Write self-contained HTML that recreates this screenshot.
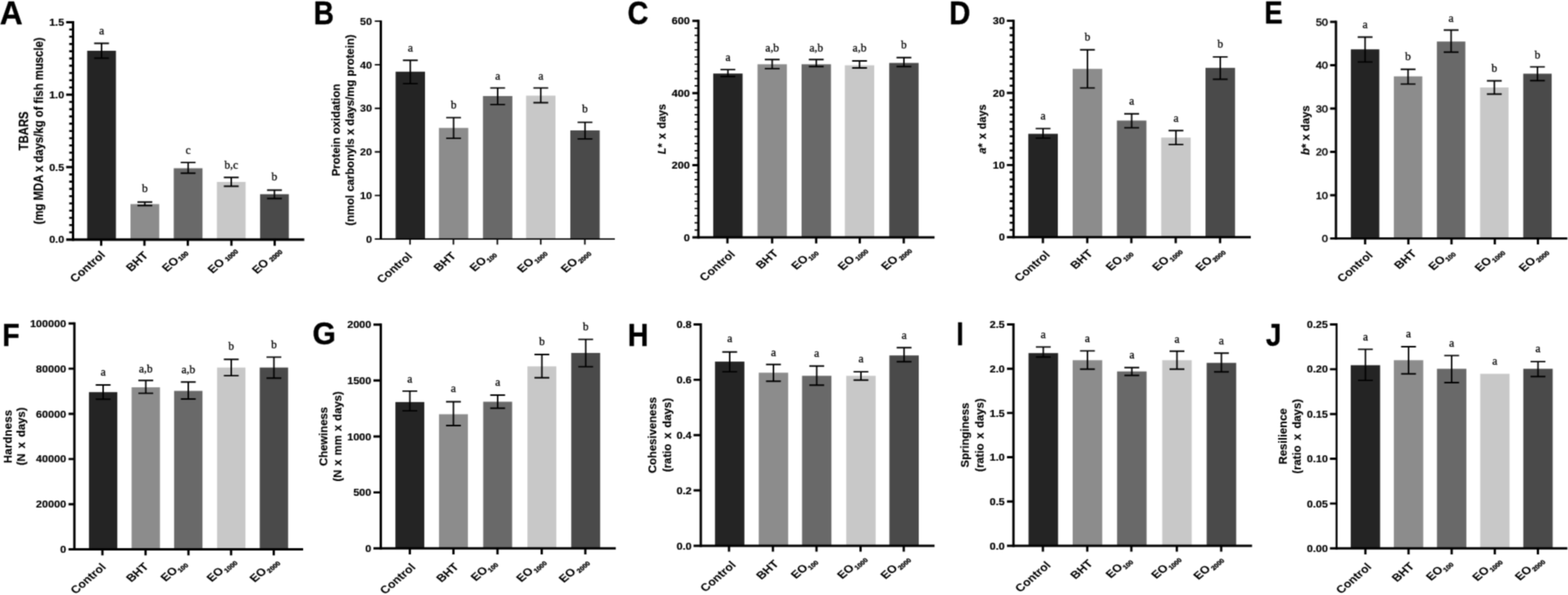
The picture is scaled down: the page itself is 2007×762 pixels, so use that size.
<!DOCTYPE html>
<html lang="en">
<head>
<meta charset="utf-8">
<title>Figure: oxidation, colour and texture parameters</title>
<style>
html,body{margin:0;padding:0;background:#fff}
body{width:2007px;height:762px;overflow:hidden;font-family:"Liberation Sans",sans-serif}
svg{display:block}
.ax{fill:none;stroke:#000}
.tk{fill:none;stroke:#000}
.er{fill:none;stroke:#000;stroke-width:1.9}
text{fill:#000;stroke:#000;stroke-width:0.15px;stroke-linejoin:round}
.st{stroke-width:0.25px}
.sb{stroke-width:0.4px}
.pl{stroke-width:0.4px}
.tl{font-family:"Liberation Sans",sans-serif;font-weight:normal;text-anchor:end}
.tb{font-weight:bold}
.xl{font-family:"Liberation Sans",sans-serif;font-weight:bold;font-size:14.0px;text-anchor:end;stroke-width:0.05px}
.sb{font-size:7.9px}
.yt{font-family:"Liberation Sans",sans-serif;font-weight:bold;font-size:14.5px;text-anchor:middle}
.st{font-family:"Liberation Serif",serif;font-size:14.0px;text-anchor:middle}
.pl{font-family:"Liberation Sans",sans-serif;font-weight:bold;font-size:40px}
</style>
</head>
<body>
<svg width="2007" height="762" viewBox="0 0 2007 762">
<defs><filter id="soft" color-interpolation-filters="sRGB" x="0" y="0" width="2007" height="762" filterUnits="userSpaceOnUse"><feConvolveMatrix order="3" kernelMatrix="0.0400 0.1200 0.0400 0.1200 0.3600 0.1200 0.0400 0.1200 0.0400" edgeMode="duplicate" preserveAlpha="true"/></filter></defs>
<rect width="2007" height="762" fill="#fff"/>
<g filter="url(#soft)">
<rect width="2007" height="762" fill="#fff"/>
<g id="panel-A">
<rect x="111.6" y="65" width="36.8" height="241.85" fill="#242424"/>
<rect x="167" y="261.4" width="36.8" height="45.45" fill="#8c8c8c"/>
<rect x="222.4" y="215.5" width="36.8" height="91.35" fill="#696969"/>
<rect x="277.6" y="233" width="36.8" height="73.85" fill="#c8c8c8"/>
<rect x="332.9" y="248.7" width="36.8" height="58.15" fill="#4a4a4a"/>
<path class="er" d="M130 55.5V74.5M120.5 55.5h19M120.5 74.5h19M185.4 258.8V263.2M175.9 258.8h19M175.9 263.2h19M240.8 208.1V221.8M231.3 208.1h19M231.3 221.8h19M296 227.2V238.5M286.5 227.2h19M286.5 238.5h19M351.3 243.5V254.2M341.8 243.5h19M341.8 254.2h19"/>
<path class="ax" stroke-width="3.0" d="M93.5 27.05V308.5"/>
<path class="ax" stroke-width="3.3" d="M84.7 306.85H389.5"/>
<path class="tk" stroke-width="2.9" d="M84.7 28.5H93.5M84.7 121.28H93.5M84.7 214.07H93.5M129.5 306.85V314.7M184.9 306.85V314.7M240.4 306.85V314.7M296.2 306.85V314.7M351.6 306.85V314.7"/>
<path class="tk" stroke-width="2.6" d="M88.6 37.78H93.5M88.6 47.06H93.5M88.6 56.34H93.5M88.6 65.61H93.5M88.6 74.89H93.5M88.6 84.17H93.5M88.6 93.45H93.5M88.6 102.73H93.5M88.6 112.01H93.5M88.6 130.56H93.5M88.6 139.84H93.5M88.6 149.12H93.5M88.6 158.4H93.5M88.6 167.68H93.5M88.6 176.95H93.5M88.6 186.23H93.5M88.6 195.51H93.5M88.6 204.79H93.5M88.6 223.34H93.5M88.6 232.62H93.5M88.6 241.9H93.5M88.6 251.18H93.5M88.6 260.46H93.5M88.6 269.74H93.5M88.6 279.01H93.5M88.6 288.29H93.5M88.6 297.57H93.5"/>
<text class="tl tb" style="stroke-width:0.15px" transform="translate(82.2 33.14) scale(1.12 1)" font-size="12.4">1.5</text>
<text class="tl tb" style="stroke-width:0.15px" transform="translate(82.2 125.92) scale(1.12 1)" font-size="12.4">1.0</text>
<text class="tl tb" style="stroke-width:0.15px" transform="translate(82.2 218.71) scale(1.12 1)" font-size="12.4">0.5</text>
<text class="tl tb" style="stroke-width:0.15px" transform="translate(82.2 311.49) scale(1.12 1)" font-size="12.4">0.0</text>
<text class="st" transform="translate(130 44) scale(1.06 1)">a</text>
<text class="st" transform="translate(185.4 245.7) scale(1.06 1)">b</text>
<text class="st" transform="translate(240.8 197) scale(1.06 1)">c</text>
<text class="st" transform="translate(296 216.2) scale(1.06 1)">b,c</text>
<text class="st" transform="translate(351.3 230.8) scale(1.06 1)">b</text>
<text class="xl" transform="translate(135.7 327.35) scale(1.13 1) rotate(-45)">Control</text>
<text class="xl" transform="translate(190.7 328.05) scale(1.13 1) rotate(-45)">BHT</text>
<text class="xl" transform="translate(241.3 324.55) scale(1.13 1) rotate(-45)">EO<tspan class="sb" dx="1.2" dy="0.8">100</tspan></text>
<text class="xl" transform="translate(304.9 322.15) scale(1.13 1) rotate(-45)">EO<tspan class="sb" dx="3.2" dy="0.8">1000</tspan></text>
<text class="xl" transform="translate(361.6 322.65) scale(1.13 1) rotate(-45)">EO<tspan class="sb" dx="3.2" dy="0.8">2000</tspan></text>
<text class="yt" transform="translate(36.3 167.68) scale(1.13 1) rotate(-90)">TBARS</text>
<text class="yt" transform="translate(55 167.68) scale(1.13 1) rotate(-90)">(mg MDA x days/kg of fish muscle)</text>
<text class="pl" transform="translate(-0.26 31.05) scale(1.0136 1.0538)">A</text>
</g>
<g id="panel-B">
<rect x="506.4" y="91.8" width="37.6" height="214.35" fill="#242424"/>
<rect x="561.8" y="163.8" width="37.6" height="142.35" fill="#8c8c8c"/>
<rect x="618.2" y="123" width="37.6" height="183.15" fill="#696969"/>
<rect x="673.4" y="122.5" width="37.6" height="183.65" fill="#c8c8c8"/>
<rect x="730" y="167" width="37.6" height="139.15" fill="#4a4a4a"/>
<path class="er" d="M525.2 77.3V107.1M515.7 77.3h19M515.7 107.1h19M580.6 150.6V177.1M571.1 150.6h19M571.1 177.1h19M637 112.6V133.9M627.5 112.6h19M627.5 133.9h19M692.2 112.6V131.5M682.7 112.6h19M682.7 131.5h19M748.8 156.6V177.9M739.3 156.6h19M739.3 177.9h19"/>
<path class="ax" stroke-width="3.0" d="M487.45 26.15V307.1"/>
<path class="ax" stroke-width="1.9" d="M479.7 306.15H787"/>
<path class="tk" stroke-width="1.9" d="M479.7 27.1H487.45M479.7 82.91H487.45M479.7 138.72H487.45M479.7 194.53H487.45M479.7 250.34H487.45M524.8 306.15V313.3M580.4 306.15V313.3M636.6 306.15V313.3M692.2 306.15V313.3M748.6 306.15V313.3"/>
<text class="tl tb" style="stroke-width:0.1px" transform="translate(476.3 31.74) scale(1.12 1)" font-size="12.4">50</text>
<text class="tl tb" style="stroke-width:0.1px" transform="translate(476.3 87.55) scale(1.12 1)" font-size="12.4">40</text>
<text class="tl tb" style="stroke-width:0.1px" transform="translate(476.3 143.36) scale(1.12 1)" font-size="12.4">30</text>
<text class="tl tb" style="stroke-width:0.1px" transform="translate(476.3 199.17) scale(1.12 1)" font-size="12.4">20</text>
<text class="tl tb" style="stroke-width:0.1px" transform="translate(476.3 254.98) scale(1.12 1)" font-size="12.4">10</text>
<text class="tl tb" style="stroke-width:0.1px" transform="translate(476.3 310.79) scale(1.12 1)" font-size="12.4">0</text>
<text class="st" transform="translate(525.2 66.2) scale(1.06 1)">a</text>
<text class="st" transform="translate(580.6 138.7) scale(1.06 1)">b</text>
<text class="st" transform="translate(637 102) scale(1.06 1)">a</text>
<text class="st" transform="translate(692.2 102) scale(1.06 1)">a</text>
<text class="st" transform="translate(748.8 144.3) scale(1.06 1)">b</text>
<text class="xl" transform="translate(528.7 329.05) scale(1.1368 0.98) rotate(-45)">Control</text>
<text class="xl" transform="translate(584.7 328.55) scale(1.1368 0.98) rotate(-45)">BHT</text>
<text class="xl" transform="translate(634.5 325.15) scale(1.1368 0.98) rotate(-45)">EO<tspan class="sb" dx="0.3" dy="3.2">100</tspan></text>
<text class="xl" transform="translate(699.2 323.35) scale(1.1368 0.98) rotate(-45)">EO<tspan class="sb" dx="0.8" dy="3.2">1000</tspan></text>
<text class="xl" transform="translate(755.2 323.35) scale(1.1368 0.98) rotate(-45)">EO<tspan class="sb" dx="0.8" dy="3.2">2000</tspan></text>
<text class="yt" transform="translate(435 166.62) scale(1 1) rotate(-90)">Protein oxidation</text>
<text class="yt" transform="translate(453 166.62) scale(1 1) rotate(-90)">(nmol carbonyls x days/mg protein)</text>
<text class="pl" transform="translate(401.45 31.05) scale(0.8977 1.0538)">B</text>
</g>
<g id="panel-C">
<rect x="912.9" y="94.2" width="37.6" height="209.75" fill="#242424"/>
<rect x="969.6" y="82.3" width="37.6" height="221.65" fill="#8c8c8c"/>
<rect x="1026" y="82.3" width="37.6" height="221.65" fill="#696969"/>
<rect x="1081.4" y="83.6" width="37.6" height="220.35" fill="#c8c8c8"/>
<rect x="1138.2" y="80.6" width="37.6" height="223.35" fill="#4a4a4a"/>
<path class="er" d="M931.7 89.1V98M922.2 89.1h19M922.2 98h19M988.4 76.3V87.9M978.9 76.3h19M978.9 87.9h19M1044.8 76.3V85.3M1035.3 76.3h19M1035.3 85.3h19M1100.2 78V87M1090.7 78h19M1090.7 87h19M1157 73.7V85.3M1147.5 73.7h19M1147.5 85.3h19"/>
<path class="ax" stroke-width="3.0" d="M893.95 25.35V305.45"/>
<path class="ax" stroke-width="3.0" d="M886.2 303.95H1196.2"/>
<path class="tk" stroke-width="2.9" d="M886.2 26.8H893.95M886.2 119.18H893.95M886.2 211.57H893.95M931.1 303.95V311.65M988.3 303.95V311.65M1044.7 303.95V311.65M1100.5 303.95V311.65M1156.8 303.95V311.65"/>
<path class="tk" stroke-width="1.7" d="M889.05 36.04H893.95M889.05 45.28H893.95M889.05 54.52H893.95M889.05 63.75H893.95M889.05 72.99H893.95M889.05 82.23H893.95M889.05 91.47H893.95M889.05 100.71H893.95M889.05 109.94H893.95M889.05 128.42H893.95M889.05 137.66H893.95M889.05 146.9H893.95M889.05 156.14H893.95M889.05 165.38H893.95M889.05 174.61H893.95M889.05 183.85H893.95M889.05 193.09H893.95M889.05 202.33H893.95M889.05 220.81H893.95M889.05 230.04H893.95M889.05 239.28H893.95M889.05 248.52H893.95M889.05 257.76H893.95M889.05 267H893.95M889.05 276.23H893.95M889.05 285.47H893.95M889.05 294.71H893.95"/>
<text class="tl tb" style="stroke-width:0.2px" transform="translate(883 31.44) scale(1.12 1)" font-size="12.4">600</text>
<text class="tl tb" style="stroke-width:0.2px" transform="translate(883 123.82) scale(1.12 1)" font-size="12.4">400</text>
<text class="tl tb" style="stroke-width:0.2px" transform="translate(883 216.21) scale(1.12 1)" font-size="12.4">200</text>
<text class="tl tb" style="stroke-width:0.2px" transform="translate(883 308.59) scale(1.12 1)" font-size="12.4">0</text>
<text class="st" transform="translate(931.7 78.3) scale(1.06 1)">a</text>
<text class="st" transform="translate(988.4 65.7) scale(1.06 1)">a,b</text>
<text class="st" transform="translate(1044.8 65.7) scale(1.06 1)">a,b</text>
<text class="st" transform="translate(1100.2 66.1) scale(1.06 1)">a,b</text>
<text class="st" transform="translate(1157 61.8) scale(1.06 1)">b</text>
<text class="xl" transform="translate(941.8 326.45) scale(1.1368 0.98) rotate(-45)">Control</text>
<text class="xl" transform="translate(997.1 325.35) scale(1.1368 0.98) rotate(-45)">BHT</text>
<text class="xl" transform="translate(1046.3 322.85) scale(1.1368 0.98) rotate(-45)">EO<tspan class="sb" dx="0.3" dy="3.2">100</tspan></text>
<text class="xl" transform="translate(1109.7 320.15) scale(1.1368 0.98) rotate(-45)">EO<tspan class="sb" dx="0.8" dy="3.2">1000</tspan></text>
<text class="xl" transform="translate(1165.8 319.65) scale(1.1368 0.98) rotate(-45)">EO<tspan class="sb" dx="1.5" dy="3.2">2000</tspan></text>
<text class="yt" word-spacing="1.75" transform="translate(852 165.38) scale(0.96 0.96) rotate(-90)"><tspan font-style="italic">L</tspan>* x days</text>
<text class="pl" transform="translate(803.33 31.03) scale(0.9254 1.0593)">C</text>
</g>
<g id="panel-D">
<rect x="1316.2" y="171.4" width="37.8" height="132.4" fill="#242424"/>
<rect x="1373" y="88.2" width="37.8" height="215.6" fill="#8c8c8c"/>
<rect x="1429.6" y="154.4" width="37.8" height="149.4" fill="#696969"/>
<rect x="1486.3" y="176.2" width="37.8" height="127.6" fill="#c8c8c8"/>
<rect x="1543" y="86.9" width="37.8" height="216.9" fill="#4a4a4a"/>
<path class="er" d="M1335.1 164.6V176.9M1325.6 164.6h19M1325.6 176.9h19M1391.9 63.8V112.6M1382.4 63.8h19M1382.4 112.6h19M1448.5 145.7V163.6M1439 145.7h19M1439 163.6h19M1505.2 167.2V185.1M1495.7 167.2h19M1495.7 185.1h19M1561.9 72.9V101.5M1552.4 72.9h19M1552.4 101.5h19"/>
<path class="ax" stroke-width="3.0" d="M1297.3 25.15V305.3"/>
<path class="ax" stroke-width="3.0" d="M1288.7 303.8H1601"/>
<path class="tk" stroke-width="2.9" d="M1288.7 26.6H1297.3M1288.7 119H1297.3M1288.7 211.4H1297.3M1334.9 303.8V311.5M1391.7 303.8V311.5M1448.1 303.8V311.5M1504.9 303.8V311.5M1561.7 303.8V311.5"/>
<path class="tk" stroke-width="2.6" d="M1292.4 35.84H1297.3M1292.4 45.08H1297.3M1292.4 54.32H1297.3M1292.4 63.56H1297.3M1292.4 72.8H1297.3M1292.4 82.04H1297.3M1292.4 91.28H1297.3M1292.4 100.52H1297.3M1292.4 109.76H1297.3M1292.4 128.24H1297.3M1292.4 137.48H1297.3M1292.4 146.72H1297.3M1292.4 155.96H1297.3M1292.4 165.2H1297.3M1292.4 174.44H1297.3M1292.4 183.68H1297.3M1292.4 192.92H1297.3M1292.4 202.16H1297.3M1292.4 220.64H1297.3M1292.4 229.88H1297.3M1292.4 239.12H1297.3M1292.4 248.36H1297.3M1292.4 257.6H1297.3M1292.4 266.84H1297.3M1292.4 276.08H1297.3M1292.4 285.32H1297.3M1292.4 294.56H1297.3"/>
<text class="tl tb" style="stroke-width:0.2px" transform="translate(1286.2 31.24) scale(1.12 1)" font-size="12.4">30</text>
<text class="tl tb" style="stroke-width:0.2px" transform="translate(1286.2 123.64) scale(1.12 1)" font-size="12.4">20</text>
<text class="tl tb" style="stroke-width:0.2px" transform="translate(1286.2 216.04) scale(1.12 1)" font-size="12.4">10</text>
<text class="tl tb" style="stroke-width:0.2px" transform="translate(1286.2 308.44) scale(1.12 1)" font-size="12.4">0</text>
<text class="st" transform="translate(1335.1 152.7) scale(1.06 1)">a</text>
<text class="st" transform="translate(1391.9 51.9) scale(1.06 1)">b</text>
<text class="st" transform="translate(1448.5 134.3) scale(1.06 1)">a</text>
<text class="st" transform="translate(1505.2 156.4) scale(1.06 1)">a</text>
<text class="st" transform="translate(1561.9 61.3) scale(1.06 1)">b</text>
<text class="xl" transform="translate(1344.8 327.1) scale(1.1368 0.98) rotate(-45)">Control</text>
<text class="xl" transform="translate(1399.5 325.5) scale(1.1368 0.98) rotate(-45)">BHT</text>
<text class="xl" transform="translate(1449.2 323.9) scale(1.1368 0.98) rotate(-45)">EO<tspan class="sb" dx="0.8" dy="3.2">100</tspan></text>
<text class="xl" transform="translate(1512.3 321) scale(1.1368 0.98) rotate(-45)">EO<tspan class="sb" dx="0.8" dy="3.2">1000</tspan></text>
<text class="xl" transform="translate(1567.1 321.7) scale(1.1368 0.98) rotate(-45)">EO<tspan class="sb" dx="0.3" dy="3.2">2000</tspan></text>
<text class="yt" word-spacing="1.4" transform="translate(1262 165.2) scale(0.96 0.96) rotate(-90)"><tspan font-style="italic">a</tspan>* x days</text>
<text class="pl" transform="translate(1214.94 31.45) scale(0.9376 1.0538)">D</text>
</g>
<g id="panel-E">
<rect x="1729.1" y="63.2" width="36.4" height="242.25" fill="#242424"/>
<rect x="1784.1" y="97.8" width="36.4" height="207.65" fill="#8c8c8c"/>
<rect x="1839.2" y="53.2" width="36.4" height="252.25" fill="#696969"/>
<rect x="1894.5" y="112" width="36.4" height="193.45" fill="#c8c8c8"/>
<rect x="1949.7" y="94.4" width="36.4" height="211.05" fill="#4a4a4a"/>
<path class="er" d="M1747.3 47.5V79.4M1737.8 47.5h19M1737.8 79.4h19M1802.3 88.8V107.6M1792.8 88.8h19M1792.8 107.6h19M1857.4 38.5V66.8M1847.9 38.5h19M1847.9 66.8h19M1912.7 103.5V120.5M1903.2 103.5h19M1903.2 120.5h19M1967.9 85.6V103.3M1958.4 85.6h19M1958.4 103.3h19"/>
<path class="ax" stroke-width="3.0" d="M1710 26.55V306.8"/>
<path class="ax" stroke-width="2.7" d="M1702.5 305.45H2006.2"/>
<path class="tk" stroke-width="2.9" d="M1702.5 28H1710M1702.5 83.49H1710M1702.5 138.98H1710M1702.5 194.47H1710M1702.5 249.96H1710M1747.3 305.45V313M1802.7 305.45V313M1857.9 305.45V313M1913.3 305.45V313M1968.5 305.45V313"/>
<text class="tl" style="stroke-width:0.5px" transform="translate(1699.8 32.64) scale(1.12 1)" font-size="12.4">50</text>
<text class="tl" style="stroke-width:0.5px" transform="translate(1699.8 88.13) scale(1.12 1)" font-size="12.4">40</text>
<text class="tl" style="stroke-width:0.5px" transform="translate(1699.8 143.62) scale(1.12 1)" font-size="12.4">30</text>
<text class="tl" style="stroke-width:0.5px" transform="translate(1699.8 199.11) scale(1.12 1)" font-size="12.4">20</text>
<text class="tl" style="stroke-width:0.5px" transform="translate(1699.8 254.6) scale(1.12 1)" font-size="12.4">10</text>
<text class="tl" style="stroke-width:0.5px" transform="translate(1699.8 310.09) scale(1.12 1)" font-size="12.4">0</text>
<text class="st" transform="translate(1747.3 35.9) scale(1.06 1)">a</text>
<text class="st" transform="translate(1802.3 76.9) scale(1.06 1)">b</text>
<text class="st" transform="translate(1857.4 27.9) scale(1.06 1)">a</text>
<text class="st" transform="translate(1912.7 91.9) scale(1.06 1)">b</text>
<text class="st" transform="translate(1967.9 75.3) scale(1.06 1)">b</text>
<text class="xl" transform="translate(1758 327.75) scale(1.1368 0.98) rotate(-45)">Control</text>
<text class="xl" transform="translate(1814 325.65) scale(1.1368 0.98) rotate(-45)">BHT</text>
<text class="xl" transform="translate(1861.6 323.95) scale(1.1368 0.98) rotate(-45)">EO<tspan class="sb" dx="0.0" dy="3.2">100</tspan></text>
<text class="xl" transform="translate(1924.9 322.15) scale(1.1368 0.98) rotate(-45)">EO<tspan class="sb" dx="0.6" dy="3.2">1000</tspan></text>
<text class="xl" transform="translate(1981.4 322.15) scale(1.1368 0.98) rotate(-45)">EO<tspan class="sb" dx="0.6" dy="3.2">2000</tspan></text>
<text class="yt" transform="translate(1676 166.72) scale(1 1) rotate(-90)"><tspan font-style="italic">b</tspan>* x days</text>
<text class="pl" transform="translate(1618.51 30.45) scale(0.8734 1.0174)">E</text>
</g>
<g id="panel-F">
<rect x="113.85" y="502.2" width="36.3" height="201.35" fill="#242424"/>
<rect x="168.45" y="496" width="36.3" height="207.55" fill="#8c8c8c"/>
<rect x="222.85" y="500.6" width="36.3" height="202.95" fill="#696969"/>
<rect x="277.85" y="470.7" width="36.3" height="232.85" fill="#c8c8c8"/>
<rect x="332.45" y="470.7" width="36.3" height="232.85" fill="#4a4a4a"/>
<path class="er" d="M132 493V511.2M122.5 493h19M122.5 511.2h19M186.6 487.3V503.6M177.1 487.3h19M177.1 503.6h19M241 489.3V511M231.5 489.3h19M231.5 511h19M296 460.2V481.1M286.5 460.2h19M286.5 481.1h19M350.6 457.4V484.3M341.1 457.4h19M341.1 484.3h19"/>
<path class="ax" stroke-width="3.0" d="M95.2 412.85V705.05"/>
<path class="ax" stroke-width="3.0" d="M87.7 703.55H388"/>
<path class="tk" stroke-width="2.9" d="M87.7 414.3H95.2M87.7 472.15H95.2M87.7 530H95.2M87.7 587.85H95.2M87.7 645.7H95.2M131.1 703.55V711.25M186.3 703.55V711.25M241.2 703.55V711.25M295.8 703.55V711.25M350.4 703.55V711.25"/>
<text class="tl tb" style="stroke-width:0.15px" transform="translate(84.7 418.94) scale(1.12 1)" font-size="12.4">100000</text>
<text class="tl tb" style="stroke-width:0.15px" transform="translate(84.7 476.79) scale(1.12 1)" font-size="12.4">80000</text>
<text class="tl tb" style="stroke-width:0.15px" transform="translate(84.7 534.64) scale(1.12 1)" font-size="12.4">60000</text>
<text class="tl tb" style="stroke-width:0.15px" transform="translate(84.7 592.49) scale(1.12 1)" font-size="12.4">40000</text>
<text class="tl tb" style="stroke-width:0.15px" transform="translate(84.7 650.34) scale(1.12 1)" font-size="12.4">20000</text>
<text class="tl tb" style="stroke-width:0.15px" transform="translate(84.7 708.19) scale(1.12 1)" font-size="12.4">0</text>
<text class="st" transform="translate(132 481.1) scale(1.06 1)">a</text>
<text class="st" transform="translate(186.6 477.1) scale(1.06 1)">a,b</text>
<text class="st" transform="translate(241 477.7) scale(1.06 1)">a,b</text>
<text class="st" transform="translate(296 448.2) scale(1.06 1)">b</text>
<text class="st" transform="translate(350.6 445.8) scale(1.06 1)">b</text>
<text class="xl" transform="translate(136.6 727.05) scale(1.1368 0.98) rotate(-45)">Control</text>
<text class="xl" transform="translate(191.1 726.45) scale(1.1368 0.98) rotate(-45)">BHT</text>
<text class="xl" transform="translate(239.1 722.15) scale(1.1368 0.98) rotate(-45)">EO<tspan class="sb" dx="0.3" dy="3.2">100</tspan></text>
<text class="xl" transform="translate(302.1 719.25) scale(1.1368 0.98) rotate(-45)">EO<tspan class="sb" dx="0.8" dy="3.2">1000</tspan></text>
<text class="xl" transform="translate(356.9 719.75) scale(1.1368 0.98) rotate(-45)">EO<tspan class="sb" dx="0.8" dy="3.2">2000</tspan></text>
<text class="yt" letter-spacing="0.33" transform="translate(14.8 558.92) scale(1 1) rotate(-90)">Hardness</text>
<text class="yt" word-spacing="2.5" transform="translate(32.2 558.92) scale(1 1) rotate(-90)">(N x days)</text>
<text class="pl" transform="translate(3.02 442.75) scale(0.9068 1.0174)">F</text>
</g>
<g id="panel-G">
<rect x="506.1" y="514.9" width="37" height="187.3" fill="#242424"/>
<rect x="561.9" y="530.5" width="37" height="171.7" fill="#8c8c8c"/>
<rect x="618.5" y="514.5" width="37" height="187.7" fill="#696969"/>
<rect x="675.1" y="469.2" width="37" height="233" fill="#c8c8c8"/>
<rect x="731.2" y="452" width="37" height="250.2" fill="#4a4a4a"/>
<path class="er" d="M524.6 500.9V526.1M515.1 500.9h19M515.1 526.1h19M580.4 514.5V545M570.9 514.5h19M570.9 545h19M637 506V522.7M627.5 506h19M627.5 522.7h19M693.6 454V483.7M684.1 454h19M684.1 483.7h19M749.7 434.6V469.6M740.2 434.6h19M740.2 469.6h19"/>
<path class="ax" stroke-width="3.0" d="M487.4 414.25V703.7"/>
<path class="ax" stroke-width="3.0" d="M478 702.2H788.2"/>
<path class="tk" stroke-width="2.9" d="M478 415.7H487.4M478 487.32H487.4M478 558.95H487.4M478 630.58H487.4M524.6 702.2V709.9M580.4 702.2V709.9M636.8 702.2V709.9M693.4 702.2V709.9M749.2 702.2V709.9"/>
<text class="tl tb" style="stroke-width:0.15px" transform="translate(475.3 420.34) scale(1.12 1)" font-size="12.4">2000</text>
<text class="tl tb" style="stroke-width:0.15px" transform="translate(475.3 491.97) scale(1.12 1)" font-size="12.4">1500</text>
<text class="tl tb" style="stroke-width:0.15px" transform="translate(475.3 563.59) scale(1.12 1)" font-size="12.4">1000</text>
<text class="tl tb" style="stroke-width:0.15px" transform="translate(475.3 635.22) scale(1.12 1)" font-size="12.4">500</text>
<text class="tl tb" style="stroke-width:0.15px" transform="translate(475.3 706.84) scale(1.12 1)" font-size="12.4">0</text>
<text class="st" transform="translate(524.6 490.4) scale(1.06 1)">a</text>
<text class="st" transform="translate(580.4 502) scale(1.06 1)">a</text>
<text class="st" transform="translate(637 494.2) scale(1.06 1)">a</text>
<text class="st" transform="translate(693.6 441.8) scale(1.06 1)">b</text>
<text class="st" transform="translate(749.7 422.8) scale(1.06 1)">b</text>
<text class="xl" transform="translate(532.8 727.3) scale(1.1368 0.98) rotate(-45)">Control</text>
<text class="xl" transform="translate(588.2 726.7) scale(1.1368 0.98) rotate(-45)">BHT</text>
<text class="xl" transform="translate(635.9 721.8) scale(1.1368 0.98) rotate(-45)">EO<tspan class="sb" dx="0.0" dy="3.2">100</tspan></text>
<text class="xl" transform="translate(698.3 719.6) scale(1.1368 0.98) rotate(-45)">EO<tspan class="sb" dx="0.8" dy="3.2">1000</tspan></text>
<text class="xl" transform="translate(753.4 719.8) scale(1.1368 0.98) rotate(-45)">EO<tspan class="sb" dx="1.5" dy="3.2">2000</tspan></text>
<text class="yt" transform="translate(418.8 558.95) scale(1 1) rotate(-90)">Chewiness</text>
<text class="yt" word-spacing="1.15" transform="translate(437 558.95) scale(1 1) rotate(-90)">(N x mm x days)</text>
<text class="pl" transform="translate(399.98 440.95) scale(0.9595 1.0099)">G</text>
</g>
<g id="panel-H">
<rect x="915.2" y="463.1" width="37.6" height="235.8" fill="#242424"/>
<rect x="971.2" y="477.3" width="37.6" height="221.6" fill="#8c8c8c"/>
<rect x="1026.6" y="481.3" width="37.6" height="217.6" fill="#696969"/>
<rect x="1083.2" y="481.3" width="37.6" height="217.6" fill="#c8c8c8"/>
<rect x="1138.4" y="455.2" width="37.6" height="243.7" fill="#4a4a4a"/>
<path class="er" d="M934 450.8V476.1M924.5 450.8h19M924.5 476.1h19M990 466.7V488.3M980.5 466.7h19M980.5 488.3h19M1045.4 468.7V493.2M1035.9 468.7h19M1035.9 493.2h19M1102 476.1V486.7M1092.5 476.1h19M1092.5 486.7h19M1157.2 445.2V463.3M1147.7 445.2h19M1147.7 463.3h19"/>
<path class="ax" stroke-width="3.0" d="M897 414.05V700.4"/>
<path class="ax" stroke-width="3.0" d="M887.7 698.9H1196.2"/>
<path class="tk" stroke-width="2.9" d="M887.7 415.5H897M887.7 486.35H897M887.7 557.2H897M887.7 628.05H897M933.1 698.9V706.6M989.3 698.9V706.6M1045.1 698.9V706.6M1101.5 698.9V706.6M1156.8 698.9V706.6"/>
<text class="tl tb" style="stroke-width:0.2px" transform="translate(885.3 420.14) scale(1.12 1)" font-size="12.4">0.8</text>
<text class="tl tb" style="stroke-width:0.2px" transform="translate(885.3 490.99) scale(1.12 1)" font-size="12.4">0.6</text>
<text class="tl tb" style="stroke-width:0.2px" transform="translate(885.3 561.84) scale(1.12 1)" font-size="12.4">0.4</text>
<text class="tl tb" style="stroke-width:0.2px" transform="translate(885.3 632.69) scale(1.12 1)" font-size="12.4">0.2</text>
<text class="tl tb" style="stroke-width:0.2px" transform="translate(885.3 703.54) scale(1.12 1)" font-size="12.4">0.0</text>
<text class="st" transform="translate(934 438.4) scale(1.06 1)">a</text>
<text class="st" transform="translate(990 456.2) scale(1.06 1)">a</text>
<text class="st" transform="translate(1045.4 457.2) scale(1.06 1)">a</text>
<text class="st" transform="translate(1102 464.1) scale(1.06 1)">a</text>
<text class="st" transform="translate(1157.2 434.2) scale(1.06 1)">a</text>
<text class="xl" transform="translate(942.8 724.4) scale(1.1368 0.98) rotate(-45)">Control</text>
<text class="xl" transform="translate(997.6 723.1) scale(1.1368 0.98) rotate(-45)">BHT</text>
<text class="xl" transform="translate(1045.7 718.8) scale(1.1368 0.98) rotate(-45)">EO<tspan class="sb" dx="0.0" dy="3.2">100</tspan></text>
<text class="xl" transform="translate(1108.9 715.6) scale(1.1368 0.98) rotate(-45)">EO<tspan class="sb" dx="0.8" dy="3.2">1000</tspan></text>
<text class="xl" transform="translate(1164.5 715.8) scale(1.1368 0.98) rotate(-45)">EO<tspan class="sb" dx="0.8" dy="3.2">2000</tspan></text>
<text class="yt" transform="translate(840 557.2) scale(1 1) rotate(-90)">Cohesiveness</text>
<text class="yt" word-spacing="2.3" transform="translate(858.5 557.2) scale(1 1) rotate(-90)">(ratio x days)</text>
<text class="pl" transform="translate(803.39 442.75) scale(0.9185 1.0174)">H</text>
</g>
<g id="panel-I">
<rect x="1316.5" y="452.2" width="37.8" height="246.7" fill="#242424"/>
<rect x="1373" y="461.3" width="37.8" height="237.6" fill="#8c8c8c"/>
<rect x="1429.8" y="475.7" width="37.8" height="223.2" fill="#696969"/>
<rect x="1487.6" y="461.3" width="37.8" height="237.6" fill="#c8c8c8"/>
<rect x="1544.5" y="464.7" width="37.8" height="234.2" fill="#4a4a4a"/>
<path class="er" d="M1335.4 444.4V457.2M1325.9 444.4h19M1325.9 457.2h19M1391.9 449.4V472.7M1382.4 449.4h19M1382.4 472.7h19M1448.7 470.7V480.7M1439.2 470.7h19M1439.2 480.7h19M1506.5 449.8V472.7M1497 449.8h19M1497 472.7h19M1563.4 452.2V476.3M1553.9 452.2h19M1553.9 476.3h19"/>
<path class="ax" stroke-width="3.0" d="M1297.2 414.05V700.4"/>
<path class="ax" stroke-width="3.0" d="M1288.9 698.9H1602.6"/>
<path class="tk" stroke-width="2.9" d="M1288.9 415.5H1297.2M1288.9 472.18H1297.2M1288.9 528.86H1297.2M1288.9 585.54H1297.2M1288.9 642.22H1297.2M1334.9 698.9V706.6M1391.7 698.9V706.6M1448.1 698.9V706.6M1506.3 698.9V706.6M1563.1 698.9V706.6"/>
<text class="tl tb" style="stroke-width:0.2px" transform="translate(1286.1 420.14) scale(1.12 1)" font-size="12.4">2.5</text>
<text class="tl tb" style="stroke-width:0.2px" transform="translate(1286.1 476.82) scale(1.12 1)" font-size="12.4">2.0</text>
<text class="tl tb" style="stroke-width:0.2px" transform="translate(1286.1 533.5) scale(1.12 1)" font-size="12.4">1.5</text>
<text class="tl tb" style="stroke-width:0.2px" transform="translate(1286.1 590.18) scale(1.12 1)" font-size="12.4">1.0</text>
<text class="tl tb" style="stroke-width:0.2px" transform="translate(1286.1 646.86) scale(1.12 1)" font-size="12.4">0.5</text>
<text class="tl tb" style="stroke-width:0.2px" transform="translate(1286.1 703.54) scale(1.12 1)" font-size="12.4">0.0</text>
<text class="st" transform="translate(1335.4 432.8) scale(1.06 1)">a</text>
<text class="st" transform="translate(1391.9 437.8) scale(1.06 1)">a</text>
<text class="st" transform="translate(1448.7 459.2) scale(1.06 1)">a</text>
<text class="st" transform="translate(1506.5 438.8) scale(1.06 1)">a</text>
<text class="st" transform="translate(1563.4 440.8) scale(1.06 1)">a</text>
<text class="xl" transform="translate(1345.8 724.7) scale(1.1368 0.98) rotate(-45)">Control</text>
<text class="xl" transform="translate(1399.7 722.5) scale(1.1368 0.98) rotate(-45)">BHT</text>
<text class="xl" transform="translate(1448.7 718.2) scale(1.1368 0.98) rotate(-45)">EO<tspan class="sb" dx="0.0" dy="3.2">100</tspan></text>
<text class="xl" transform="translate(1510.7 715.6) scale(1.1368 0.98) rotate(-45)">EO<tspan class="sb" dx="0.5" dy="3.2">1000</tspan></text>
<text class="xl" transform="translate(1565.3 716.3) scale(1.1368 0.98) rotate(-45)">EO<tspan class="sb" dx="1.2" dy="3.2">2000</tspan></text>
<text class="yt" transform="translate(1239.6 557.2) scale(1 1) rotate(-90)">Springiness</text>
<text class="yt" word-spacing="1.85" transform="translate(1258.5 557.2) scale(1 1) rotate(-90)">(ratio x days)</text>
<text class="pl" transform="translate(1224.27 442.15) scale(0.8160 1.0647)">I</text>
</g>
<g id="panel-J">
<rect x="1728.9" y="467.7" width="37.6" height="234.5" fill="#242424"/>
<rect x="1784.1" y="461.3" width="37.6" height="240.9" fill="#8c8c8c"/>
<rect x="1839.3" y="472.3" width="37.6" height="229.9" fill="#696969"/>
<rect x="1894.6" y="478.7" width="37.6" height="223.5" fill="#c8c8c8"/>
<rect x="1949.8" y="472.3" width="37.6" height="229.9" fill="#4a4a4a"/>
<path class="er" d="M1747.7 447.4V487.1M1738.2 447.4h19M1738.2 487.1h19M1802.9 444V478.7M1793.4 444h19M1793.4 478.7h19M1858.1 455.4V490M1848.6 455.4h19M1848.6 490h19M1968.6 463.1V482.3M1959.1 463.1h19M1959.1 482.3h19"/>
<path class="ax" stroke-width="2.5" d="M1710.8 414.05V703.7"/>
<path class="ax" stroke-width="3.0" d="M1702.3 702.2H2006.2"/>
<path class="tk" stroke-width="2.9" d="M1702.3 415.5H1710.8M1702.3 472.84H1710.8M1702.3 530.18H1710.8M1702.3 587.52H1710.8M1702.3 644.86H1710.8M1747.7 702.2V709.9M1802.9 702.2V709.9M1858.1 702.2V709.9M1913.3 702.2V709.9M1968.5 702.2V709.9"/>
<text class="tl tb" style="stroke-width:0.15px" transform="translate(1699.7 420.14) scale(1.12 1)" font-size="12.4">0.25</text>
<text class="tl tb" style="stroke-width:0.15px" transform="translate(1699.7 477.48) scale(1.12 1)" font-size="12.4">0.20</text>
<text class="tl tb" style="stroke-width:0.15px" transform="translate(1699.7 534.82) scale(1.12 1)" font-size="12.4">0.15</text>
<text class="tl tb" style="stroke-width:0.15px" transform="translate(1699.7 592.16) scale(1.12 1)" font-size="12.4">0.10</text>
<text class="tl tb" style="stroke-width:0.15px" transform="translate(1699.7 649.5) scale(1.12 1)" font-size="12.4">0.05</text>
<text class="tl tb" style="stroke-width:0.15px" transform="translate(1699.7 706.84) scale(1.12 1)" font-size="12.4">0.00</text>
<text class="st" transform="translate(1747.7 435.8) scale(1.06 1)">a</text>
<text class="st" transform="translate(1802.9 431.5) scale(1.06 1)">a</text>
<text class="st" transform="translate(1858.1 443.8) scale(1.06 1)">a</text>
<text class="st" transform="translate(1913.4 466.7) scale(1.06 1)">a</text>
<text class="st" transform="translate(1968.6 451.4) scale(1.06 1)">a</text>
<text class="xl" transform="translate(1756.4 726.9) scale(1.1368 0.98) rotate(-45)">Control</text>
<text class="xl" transform="translate(1811.2 726.1) scale(1.1368 0.98) rotate(-45)">BHT</text>
<text class="xl" transform="translate(1858.7 721.3) scale(1.1368 0.98) rotate(-45)">EO<tspan class="sb" dx="0.0" dy="3.2">100</tspan></text>
<text class="xl" transform="translate(1921.7 718.4) scale(1.1368 0.98) rotate(-45)">EO<tspan class="sb" dx="0.5" dy="3.2">1000</tspan></text>
<text class="xl" transform="translate(1976.1 717.9) scale(1.1368 0.98) rotate(-45)">EO<tspan class="sb" dx="0.3" dy="3.2">2000</tspan></text>
<text class="yt" transform="translate(1647 558.85) scale(1.06 1) rotate(-90)">Resilience</text>
<text class="yt" word-spacing="2.75" transform="translate(1665.2 558.85) scale(1.06 1) rotate(-90)">(ratio x days)</text>
<text class="pl" transform="translate(1620.31 442.95) scale(0.8991 1.0246)">J</text>
</g>
</g>
</svg>
</body>
</html>
